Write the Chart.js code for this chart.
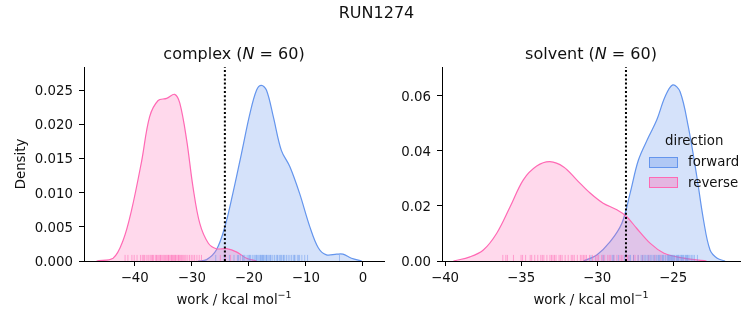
<!DOCTYPE html>
<html>
<head>
<meta charset="utf-8">
<script src="https://cdn.jsdelivr.net/npm/chart.js@4.4.1/dist/chart.umd.min.js"></script>
<style>
  body { margin: 0; background: #fff; font-family: "DejaVu Sans", sans-serif; color: #111; }
  #wrap { position: relative; width: 753px; height: 325px; overflow: hidden; }
  canvas { position: absolute; top: 0; }
  #complex { left: 0; }
  #solvent { left: 395px; }
  .txt { position: absolute; white-space: nowrap; transform: translate(-50%, -50%); line-height: 1; }
  .big { font-size: 16px; }
  .mid { font-size: 13.33px; }
  .mid sup { font-size: 9.5px; vertical-align: 0; position: relative; top: -6px; }
  .leg { position: absolute; font-size: 13.33px; line-height: 1; white-space: nowrap; }
  .sw { position: absolute; width: 27px; height: 9px; border: 1px solid; }
</style>
</head>
<body>
<div id="wrap">
  <canvas id="complex" width="395" height="325"></canvas>
  <canvas id="solvent" width="358" height="325"></canvas>
  <div class="txt big" style="left:376.5px;top:13px;">RUN1274</div>
  <div class="txt big" style="left:234px;top:54px;">complex (<i>N</i> = 60)</div>
  <div class="txt big" style="left:591px;top:54px;">solvent (<i>N</i> = 60)</div>
  <div class="txt mid" style="left:234px;top:300px;">work / kcal mol<sup>−1</sup></div>
  <div class="txt mid" style="left:591px;top:300px;">work / kcal mol<sup>−1</sup></div>
  <div class="leg" style="left:665px;top:134px;">direction</div>
  <div class="sw" style="left:649px;top:157px;background:rgba(100,149,237,0.33);border-color:#6495ed;"></div>
  <div class="leg" style="left:688px;top:155px;">forward</div>
  <div class="sw" style="left:649px;top:177px;background:rgba(255,105,180,0.36);border-color:#ff69b4;"></div>
  <div class="leg" style="left:688px;top:176px;">reverse</div>
</div>
<script>
Chart.defaults.font.family = "DejaVu Sans";
Chart.defaults.color = "#111";

// complex leg: KDE of forward / reverse work
const complexFwdX = [-28.9, -27.4, -25.7, -24.2, -22.8, -21.3, -19.8, -18.65, -17.8, -16.9, -15.7, -14.3, -12.8, -11.1, -9.3, -7.8, -6.4, -4.6, -3.5, -2.0, -0.2];
const complexFwdY = [0, 0.0002, 0.0016, 0.0050, 0.0099, 0.0157, 0.0216, 0.0250, 0.0257, 0.0250, 0.0211, 0.0162, 0.0138, 0.0099, 0.0050, 0.0019, 0.0009, 0.0010, 0.0010, 0.0004, 0];
const complexRevX = [-46.7, -43.8, -42.05, -40.6, -38.8, -37.4, -35.9, -34.4, -33.0, -32.1, -30.9, -29.8, -28.6, -27.1, -25.7, -23.9, -22.1, -20.4, -18.6];
const complexRevY = [0, 0.0004, 0.0030, 0.0073, 0.0146, 0.0211, 0.0235, 0.0238, 0.0244, 0.0231, 0.0177, 0.0109, 0.0055, 0.0026, 0.0018, 0.0018, 0.0013, 0.0004, 0];
const complexFwdRug = [-25.8, -24.3, -23.4, -22.6, -22.0, -21.5, -21.1, -20.7, -20.3, -20.0, -19.7, -19.4, -19.1, -18.9, -18.6, -18.4, -18.2, -18.0, -17.8, -17.6, -17.4, -17.2, -17.0, -16.8, -16.6, -16.4, -16.1, -15.8, -15.5, -15.2, -14.9, -14.6, -14.3, -14.0, -13.7, -13.4, -13.1, -12.8, -12.5, -12.2, -11.9, -11.5, -11.1, -10.7, -10.2, -9.7, -19.9, -18.7, -17.5, -16.9, -16.2, -15.0, -13.9, -12.0, -20.9, -21.8, -17.9, -14.4, -11.3, -4.1];
const complexRevRug = [-41.7, -41.2, -40.5, -40.1, -39.6, -39.0, -38.7, -38.3, -38.0, -37.7, -37.5, -37.2, -36.9, -36.7, -36.4, -36.2, -35.9, -35.7, -35.5, -35.2, -35.0, -34.8, -34.6, -34.4, -34.2, -34.0, -33.8, -33.6, -33.4, -33.2, -33.0, -32.8, -32.6, -32.4, -32.2, -32.0, -31.8, -31.6, -31.4, -31.2, -31.0, -30.7, -30.4, -30.1, -29.8, -29.5, -29.1, -28.7, -28.3, -36.1, -35.4, -34.1, -33.5, -32.9, -32.3, -37.0, -38.5, -25.0, -24.1, -23.2];
const complexEstimate = -24.2;
const complexXTicks = [-40, -30, -20, -10, 0];
const complexYTicks = [0, 0.005, 0.010, 0.015, 0.020, 0.025];

// solvent leg
const solventFwdX = [-30.9, -30.02, -29.14, -28.37, -27.83, -27.28, -26.6, -26.07, -25.53, -25.02, -24.54, -24.0, -23.44, -23.0, -22.57, -22.1, -21.58];
const solventFwdY = [0, 0.0022, 0.0070, 0.0137, 0.0246, 0.0367, 0.0452, 0.0513, 0.0597, 0.0640, 0.0615, 0.0488, 0.0307, 0.0149, 0.0040, 0.0010, 0];
const solventRevX = [-39.45, -38.36, -37.48, -36.6, -35.72, -34.85, -33.97, -33.1, -32.2, -31.34, -30.46, -29.6, -28.7, -28.05, -27.4, -26.5, -25.6, -24.76, -23.9, -22.8];
const solventRevY = [0, 0.0015, 0.0040, 0.0101, 0.0197, 0.0295, 0.0345, 0.0361, 0.0342, 0.0295, 0.0247, 0.0210, 0.0186, 0.0161, 0.0119, 0.0064, 0.0028, 0.0015, 0.0007, 0];
const solventFwdRug = [-30.4, -29.6, -29.0, -28.6, -28.2, -27.9, -27.6, -27.3, -27.0, -26.8, -26.6, -26.4, -26.2, -26.0, -25.9, -25.8, -25.6, -25.5, -25.4, -25.3, -25.2, -25.1, -25.0, -24.9, -24.8, -24.7, -24.6, -24.5, -24.4, -24.3, -24.2, -24.1, -24.0, -23.9, -23.8, -23.6, -23.4, -27.1, -26.5, -26.1, -25.7, -25.35, -25.05, -24.75, -24.45, -24.15, -23.7, -26.9, -26.3, -25.95, -25.65, -25.25, -24.95, -24.65, -24.35, -24.05, -28.9, -27.8, -26.7, -25.15];
const solventRevRug = [-36.2, -35.9, -35.5, -35.0, -34.7, -34.4, -34.1, -33.9, -33.7, -33.5, -33.3, -33.1, -32.9, -32.7, -32.5, -32.3, -32.1, -31.9, -31.7, -31.5, -31.3, -31.1, -30.9, -30.7, -30.5, -30.3, -30.1, -29.9, -29.7, -29.5, -29.3, -29.1, -28.9, -28.7, -28.5, -28.3, -28.1, -27.9, -27.6, -27.3, -27.0, -26.6, -26.2, -25.8, -34.9, -33.6, -33.0, -32.4, -31.6, -30.8, -30.0, -29.2, -28.4, -27.5, -36.0, -34.3, -32.8, -31.0, -29.6, -28.0];
const solventEstimate = -28.1;
const solventXTicks = [-40, -35, -30, -25];
const solventYTicks = [0, 0.02, 0.04, 0.06];

const fwdColor = "#6495ed";
const revColor = "#ff69b4";
const RUG_Y = 0.016; // rug tick centre, fraction of axis height

const fmt = (v, d) => (v < 0 ? "\u2212" : "") + Math.abs(v).toFixed(d);

const kde = (xs, ys, line, fill, order) => ({
  type: "line",
  data: xs.map((x, i) => ({ x, y: ys[i] })),
  borderColor: line,
  backgroundColor: fill,
  borderWidth: 1.2,
  fill: "origin",
  pointRadius: 0,
  tension: 0.35,
  order,
  yAxisID: "y",
});

const rug = (values, color) => ({
  type: "scatter",
  data: values.map((x) => ({ x, y: RUG_Y })),
  yAxisID: "yRug",
  pointStyle: "line",
  pointRotation: 90,
  pointRadius: 3,
  pointBorderWidth: 1,
  pointBorderColor: color,
  borderColor: color,
  order: 0,
});

const estimate = (x, top) => ({
  type: "line",
  data: [{ x, y: 0 }, { x, y: top }],
  borderColor: "#000",
  borderWidth: 2,
  borderDash: [2, 2.2],
  pointRadius: 0,
  fill: false,
  order: -1,
  yAxisID: "y",
});

const makeChart = (canvas, cfg) => {
  const axisStyle = {
    grid: { drawOnChartArea: false, drawTicks: true, tickLength: 5, tickColor: "#000" },
    border: { display: true, color: "#000", width: 1 },
  };
  return new Chart(canvas, {
    type: "line",
    data: {
      datasets: [
        kde(cfg.fwdX, cfg.fwdY, fwdColor, "rgba(100,149,237,0.27)", 3),
        kde(cfg.revX, cfg.revY, revColor, "rgba(255,105,180,0.25)", 2),
        rug(cfg.fwdRug, "rgba(100,149,237,0.5)"),
        rug(cfg.revRug, "rgba(255,105,180,0.55)"),
        estimate(cfg.est, cfg.ymax),
      ],
    },
    options: {
      responsive: false,
      animation: false,
      layout: { padding: { top: 67, right: cfg.padRight, bottom: 0, left: 0 } },
      plugins: { legend: { display: false }, tooltip: { enabled: false }, title: { display: false } },
      scales: {
        x: {
          type: "linear",
          min: cfg.xmin,
          max: cfg.xmax,
          afterBuildTicks: (s) => { s.ticks = cfg.xTicks.map((value) => ({ value })); },
          afterFit: (s) => { s.height = 64; },
          ticks: { callback: (v) => fmt(v, 0), padding: 5, maxRotation: 0, font: { size: 13.33 }, color: "#111" },
          title: { display: false },
          ...axisStyle,
        },
        y: {
          type: "linear",
          min: 0,
          max: cfg.ymax,
          afterBuildTicks: (s) => { s.ticks = cfg.yTicks.map((value) => ({ value })); },
          afterFit: (s) => { s.width = cfg.yWidth; },
          ticks: { callback: (v) => v.toFixed(cfg.yDigits), padding: 6, labelOffset: 1.5, font: { size: 13.33 }, color: "#111" },
          title: { display: cfg.yTitle, text: "Density", font: { size: 13.33 }, color: "#111", padding: { top: 14, bottom: 14 } },
          ...axisStyle,
        },
        yRug: { type: "linear", axis: "y", position: "left", display: false, min: 0, max: 1 },
      },
    },
  });
};

makeChart(document.getElementById("complex"), {
  fwdX: complexFwdX, fwdY: complexFwdY, revX: complexRevX, revY: complexRevY,
  fwdRug: complexFwdRug, revRug: complexRevRug, est: complexEstimate,
  xTicks: complexXTicks, yTicks: complexYTicks, xmin: -48.9, xmax: 3.7, ymax: 0.0284,
  yDigits: 3, yWidth: 84, yTitle: true, padRight: 11,
});

makeChart(document.getElementById("solvent"), {
  fwdX: solventFwdX, fwdY: solventFwdY, revX: solventRevX, revY: solventRevY,
  fwdRug: solventFwdRug, revRug: solventRevRug, est: solventEstimate,
  xTicks: solventXTicks, yTicks: solventYTicks, xmin: -40.2, xmax: -20.6, ymax: 0.0705,
  yDigits: 2, yWidth: 47, yTitle: false, padRight: 13,
});
</script>
</body>
</html>
